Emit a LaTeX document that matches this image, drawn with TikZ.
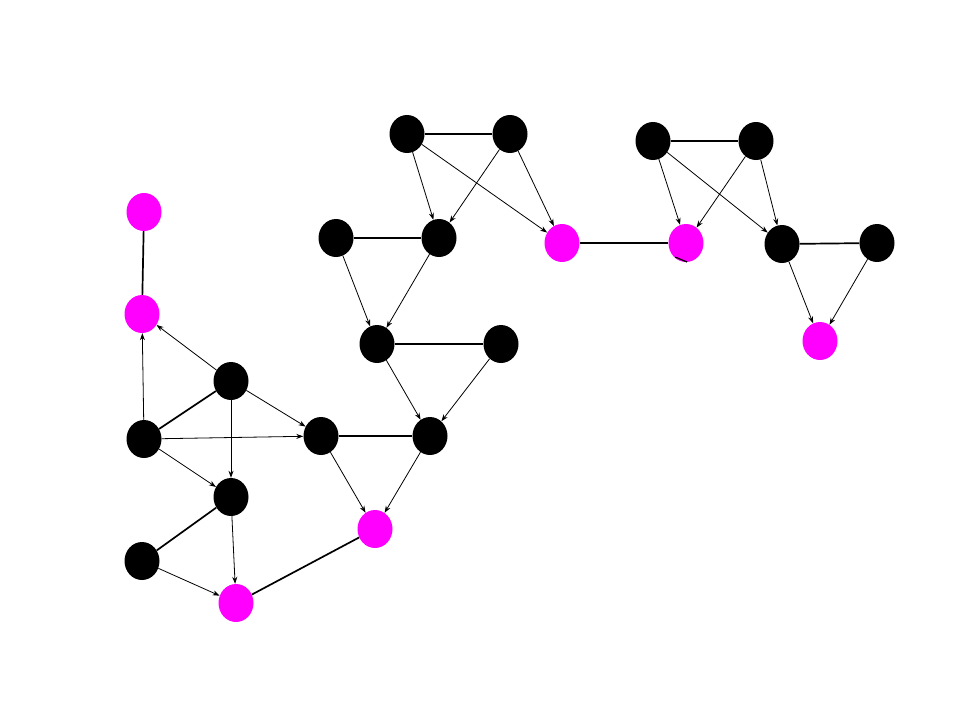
\documentclass[tikz,border=0pt]{standalone}
\usetikzlibrary{shapes.geometric,arrows.meta}
\definecolor{mag}{RGB}{255,0,255}
\tikzset{
  blk/.style={ellipse,fill=black,draw=none,minimum width=35pt,minimum height=38pt,inner sep=0pt},
  pnk/.style={ellipse,fill=mag,draw=none,minimum width=35pt,minimum height=38pt,inner sep=0pt},
  und/.style={line width=1.7pt},
  dir/.style={line width=0.8pt,-{Stealth[length=7pt,width=5pt]}},
}
\begin{document}
\begin{tikzpicture}[x=1pt,y=-1pt]
\useasboundingbox[fill=white] (0,0) rectangle (960,720);
\node[blk] (A) at (407,134) {};
\node[blk] (B) at (510,134) {};
\node[blk] (C) at (653,141) {};
\node[blk] (D) at (756,141) {};
\node[pnk] (E) at (144,212) {};
\node[blk] (F) at (336,238) {};
\node[blk] (G) at (439,238) {};
\node[pnk] (H) at (562,243) {};
\node[pnk] (I) at (686,243) {};
\node[blk] (J) at (782,244) {};
\node[blk] (K) at (877,243) {};
\node[pnk] (L) at (142,314) {};
\node[blk] (M) at (377,344) {};
\node[blk] (N) at (501,344) {};
\node[pnk] (O) at (820,341) {};
\node[blk] (P) at (231,381) {};
\node[blk] (Q) at (144,439) {};
\node[blk] (R) at (321,436) {};
\node[blk] (S) at (430,436) {};
\node[blk] (T) at (231,497) {};
\node[pnk] (U) at (375,529) {};
\node[blk] (V) at (142,561) {};
\node[pnk] (W) at (236,603) {};
% undirected
\foreach \a/\b in {A/B,C/D,E/L,F/G,H/I,J/K,M/N,Q/P,R/S,T/V,W/U}
  \draw[und] (\a) -- (\b);
% directed
\foreach \a/\b in {A/G,A/H,B/G,B/H,C/I,C/J,D/I,D/J,F/M,G/M,J/O,K/O,M/S,N/S,P/L,Q/L,P/R,Q/R,P/T,Q/T,R/U,S/U,T/W,V/W}
  \draw[dir] (\a) -- (\b);
\coordinate (i1) at (675,257);
\coordinate (i2) at (687,262);
\draw[line width=1.2pt] (i1) -- (i2);
\end{tikzpicture}
\end{document}
